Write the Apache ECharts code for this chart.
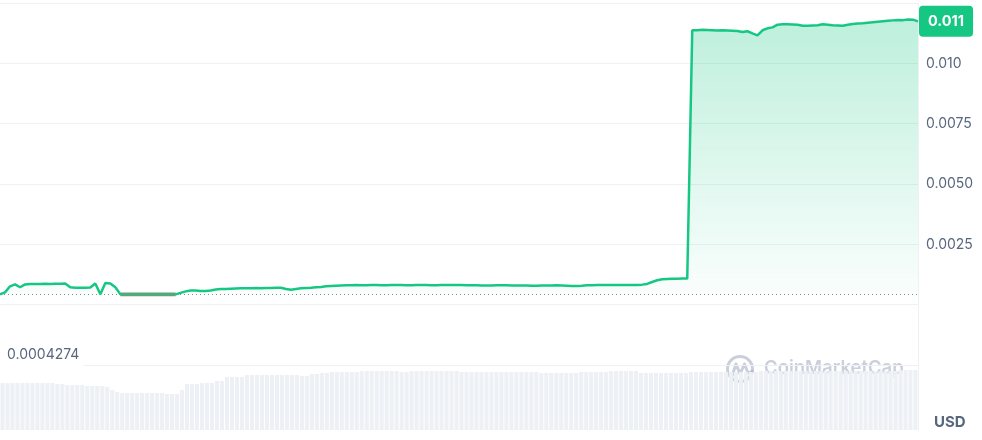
<!DOCTYPE html>
<html>
<head>
<meta charset="utf-8">
<script src="https://cdn.jsdelivr.net/npm/echarts@6/dist/echarts.min.js"></script>
<style>
html,body{margin:0;padding:0;background:#fff;}
#c{width:982px;height:440px;}
</style>
</head>
<body>
<div id="c"></div>
<script>
// ---- data ----
var price = [
0.0004274,0.00051,0.00076,0.00084,0.00072,0.00084,0.00086,0.00086,0.00086,0.00087,
0.00086,0.00087,0.00087,0.00088,0.00072,0.00070,0.00070,0.00070,0.00071,0.00088,
0.00043,0.00090,0.00088,0.00072,0.0004274,0.0004274,0.0004274,0.0004274,0.0004274,0.0004274,
0.0004274,0.0004274,0.0004274,0.0004274,0.0004274,0.0004274,0.00049,0.00055,0.00059,0.00059,
0.00057,0.00057,0.00059,0.00063,0.00065,0.00065,0.00066,0.00067,0.00068,0.00068,
0.00068,0.00069,0.00068,0.00069,0.00069,0.00070,0.00070,0.00065,0.00062,0.00065,
0.00068,0.00069,0.00070,0.00072,0.00073,0.00076,0.00077,0.00078,0.00079,0.00080,
0.00080,0.00081,0.00080,0.00080,0.00081,0.00081,0.00080,0.00080,0.00081,0.00081,
0.00081,0.00080,0.00080,0.00081,0.00081,0.00081,0.00080,0.00080,0.00081,0.00081,
0.00081,0.00081,0.00081,0.00080,0.00080,0.00080,0.00079,0.00079,0.00079,0.00080,
0.00080,0.00080,0.00079,0.00079,0.00079,0.00079,0.00078,0.00078,0.00079,0.00079,
0.00079,0.00080,0.00079,0.00078,0.00077,0.00077,0.00078,0.00080,0.00080,0.00081,
0.00081,0.00081,0.00081,0.00082,0.00082,0.00082,0.00082,0.00082,0.00083,0.00086,
0.00094,0.00101,0.00105,0.00106,0.00107,0.00107,0.00108,0.00108,0.01137,0.01137,
0.01139,0.01138,0.01137,0.01136,0.01137,0.01136,0.01135,0.01134,0.01130,0.01133,
0.01124,0.01116,0.01137,0.01145,0.01149,0.01160,0.01162,0.01162,0.01161,0.01160,
0.01156,0.01156,0.01157,0.01158,0.01162,0.01160,0.01158,0.01157,0.01156,0.01160,
0.01163,0.01165,0.01166,0.01168,0.01170,0.01172,0.01174,0.01176,0.01178,0.01180,
0.01179,0.01182,0.01181,0.01174
];
var volume = [
47,47,47,47,47,47,47,47,47,47,
47,46,46,45,45,45,45,44,44,44,
44,43,40,38,37,37,37,37,37,37,
37,37,37,36,36,36,40,46,46,46,
47,47,47,49,49,53,53,53,53,55,
55,55,55,55,55,55,55,55,55,55,
54,54,56,56,57,57,58,58,58,58,
58,58,59,59,59,59,59,59,59,59,
58,58,59,59,59,59,59,59,59,59,
59,59,58,58,58,58,58,58,58,58,
58,58,58,58,58,58,58,58,57,57,
57,57,57,57,57,57,58,58,58,58,
58,58,59,59,59,59,59,59,57,57,
57,57,57,57,57,57,57,57,58,58,
58,58,58,58,58,58,58,58,58,58,
58,58,59,59,59,59,59,59,59,59,
59,59,59,59,59,59,59,59,59,59,
59,59,59,59,59,59,59,59,59,59,
60,60,60,60
];
var yTicks = [0.0025, 0.0050, 0.0075, 0.010];
var yTickLabels = ['0.0025', '0.0050', '0.0075', '0.010'];
var lastLabel = '0.011';
var lowLabel = '0.0004274';
var currency = 'USD';
var brand = 'CoinMarketCap';
var redThreshold = 0.00043;

var categories = price.map(function (_, i) { return i; });
var lowValue = Math.min.apply(null, price);
var lastValue = price[price.length - 1];
// segments at/below the threshold get a red edge
var lowSeg = price.map(function (v, i) {
  var prev = price[i - 1], next = price[i + 1];
  if (v <= redThreshold && ((prev !== undefined && prev <= redThreshold) || (next !== undefined && next <= redThreshold))) return v;
  return '-';
});

var chart = echarts.init(document.getElementById('c'), null, {renderer: 'canvas'});
var FONT = 'Inter, "Noto Sans", sans-serif';
var GRID_C = '#eff1f4';

chart.setOption({
  animation: false,
  textStyle: {fontFamily: FONT},
  grid: [
    {left: 0, right: 64, top: 3, bottom: 75},
    {left: 0, right: 64, top: 365, bottom: 10}
  ],
  xAxis: [
    {type: 'category', gridIndex: 0, data: categories, boundaryGap: false, show: false},
    {type: 'category', gridIndex: 1, data: categories, boundaryGap: true, show: false}
  ],
  yAxis: [
    {
      type: 'value', gridIndex: 0, position: 'right',
      min: -0.0025, max: 0.0125, interval: 0.0025,
      axisLine: {show: true, lineStyle: {color: GRID_C}},
      axisTick: {show: false},
      splitLine: {show: true, lineStyle: {color: GRID_C, width: 1}},
      axisLabel: {
        margin: 8, color: '#58667e', fontSize: 14, fontFamily: FONT,
        formatter: function (v) {
          for (var k = 0; k < yTicks.length; k++) {
            if (Math.abs(v - yTicks[k]) < 1e-9) return yTickLabels[k];
          }
          return '';
        }
      }
    },
    {
      type: 'value', gridIndex: 1, position: 'right', min: 0, max: 65,
      axisLine: {show: true, lineStyle: {color: GRID_C}},
      axisTick: {show: false}, axisLabel: {show: false}, splitLine: {show: false}
    }
  ],
  series: [
    {
      type: 'line', xAxisIndex: 0, yAxisIndex: 0, data: price,
      symbol: 'none', smooth: false, z: 6,
      lineStyle: {width: 2.5, color: '#16c784'},
      itemStyle: {color: '#16c784'},
      areaStyle: {
        origin: lowValue,
        color: new echarts.graphic.LinearGradient(0, 0, 0, 1, [
          {offset: 0, color: 'rgba(22,199,132,0.40)'},
          {offset: 1, color: 'rgba(22,199,132,0.03)'}
        ])
      },
      markLine: {
        silent: true, symbol: ['none', 'none'], animation: false, precision: 10,
        data: [
          {
            yAxis: lowValue,
            lineStyle: {type: [1, 3], color: '#808a9d', width: 1.2},
            label: {show: false}
          },
          {
            yAxis: lastValue,
            lineStyle: {width: 0, color: 'rgba(0,0,0,0)'},
            label: {
              show: true, position: 'end', distance: 1,
              formatter: lastLabel,
              backgroundColor: '#16c784', color: '#fff',
              fontWeight: 'bold', fontSize: 14.5, fontFamily: FONT,
              lineHeight: 15, padding: [8, 9, 8, 9], borderRadius: 4
            }
          }
        ]
      }
    },
    {
      type: 'line', xAxisIndex: 0, yAxisIndex: 0, data: lowSeg,
      symbol: 'none', smooth: false, z: 5, connectNulls: false,
      lineStyle: {width: 3.6, color: '#ea3943', opacity: 0.8}, silent: true
    },
    {
      type: 'bar', xAxisIndex: 1, yAxisIndex: 1, data: volume,
      barCategoryGap: '18%', itemStyle: {color: '#edf0f4'}, silent: true, z: 1
    }
  ],
  graphic: [
    {
      type: 'text', left: 0, top: 343, z: 10,
      style: {
        text: lowLabel, fill: '#58667e', fontSize: 14, fontFamily: FONT,
        backgroundColor: '#fff', padding: [5, 4, 6, 7]
      }
    },
    {
      type: 'text', left: 934, top: 415, z: 10,
      style: {text: currency, fill: '#58667e', fontSize: 15, fontWeight: 'bold', fontFamily: FONT}
    },
    {
      type: 'group', z: 20, silent: true,
      children: [
        {
          type: 'circle', shape: {cx: 740, cy: 369, r: 12.5},
          style: {fill: 'none', stroke: '#a6b0c3', lineWidth: 3, opacity: 0.6}
        },
        {
          type: 'polyline',
          shape: {points: [[732, 376], [736, 364], [740, 374], [744.5, 364], [748, 373], [752.5, 371]]},
          style: {fill: 'none', stroke: '#a6b0c3', lineWidth: 3, lineJoin: 'round', lineCap: 'round', opacity: 0.6}
        },
        {
          type: 'text', left: 764, top: 359,
          style: {text: brand, fill: '#a6b0c3', opacity: 0.6, fontSize: 18.5, fontWeight: 600, fontFamily: FONT}
        }
      ]
    }
  ]
});
</script>
</body>
</html>
